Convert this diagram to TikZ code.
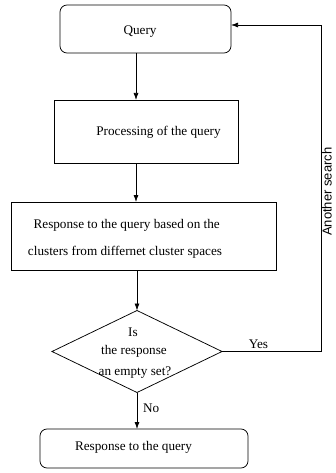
\documentclass[tikz,border=0pt]{standalone}
\usepackage{fontspec}
\setmainfont{Liberation Serif}
\newfontfamily\annsans{Liberation Sans}
\usetikzlibrary{arrows.meta,shapes.geometric}
\begin{document}
\begin{tikzpicture}[x=1pt,y=-1pt,
  boxline/.style={draw=black, line width=0.75pt, inner sep=0pt, outer sep=0pt},
  rbox/.style={boxline, rounded corners=7pt},
  txt/.style={inner sep=0pt, anchor=base, font=\fontsize{13.2}{15}\selectfont},
  arr/.style={line width=0.75pt, -{Latex[length=7pt,width=5pt]}}
]
\useasboundingbox (0,0) rectangle (335,473);

\node[rbox, minimum width=171pt, minimum height=48pt] (query) at (145.5,29) {};
\node[boxline, minimum width=184pt, minimum height=63pt] (proc) at (146,131.5) {};
\node[boxline, minimum width=265pt, minimum height=68pt] (resp) at (143.5,236) {};
\node[boxline, diamond, minimum width=170pt, minimum height=82pt] (dec) at (137,351.5) {};
\node[rbox, minimum width=208pt, minimum height=39pt] (final) at (144,448.5) {};

\node[txt] (tq) at (140,35) {Query};
\node[txt] (tp) at (158.5,136) {Processing of the query};
\node[txt] (tr1) at (126.7,228.6) {Response to the query based on the};
\node[txt] (tr2) at (125,255) {clusters from differnet cluster spaces};
\node[txt] (td1) at (133,336) {Is};
\node[txt] (td2) at (134,354) {the response};
\node[txt] (td3) at (135,375.5) {an empty set?};
\node[txt] (tf) at (133.5,450.3) {Response to the query};
\node[txt] (tyes) at (258.5,348) {Yes};
\node[txt, anchor=base west] (tno) at (143,412.3) {No};
\node[inner sep=0pt, anchor=base west, rotate=90, font=\annsans\fontsize{13}{15}\selectfont] (tann) at (331.5,236) {Another search};

\coordinate (ax) at (136,0);
\coordinate (loop) at (321,25);
\draw[arr] (query.south -| ax) -- (proc.north -| ax);
\draw[arr] (proc.south -| ax) -- (resp.north -| ax);
\draw[arr] (resp.south -| dec.north) -- (dec.north);
\draw[arr] (dec.south) -- (final.north -| dec.south);
\draw[arr] (dec.east) -- (dec.east -| loop) -- (loop) -- (loop -| query.east);
\end{tikzpicture}
\end{document}
